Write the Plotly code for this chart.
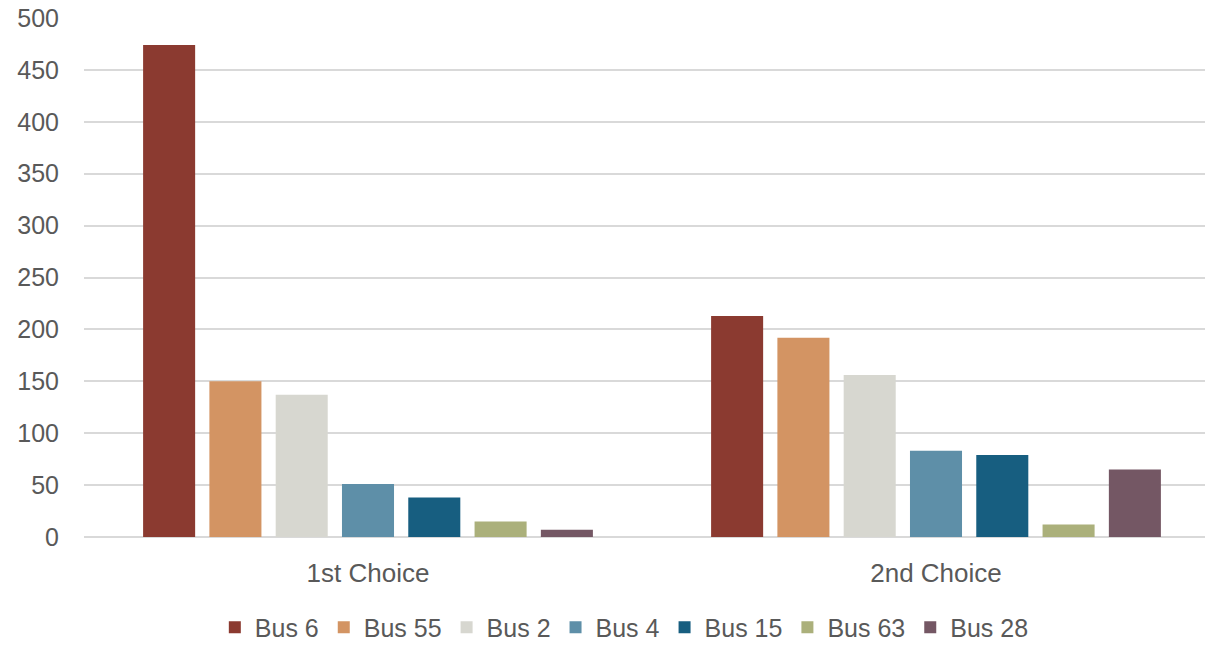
import plotly.graph_objects as go

# ── Data ──────────────────────────────────────────────────────────────────────
choices = ["1st Choice", "2nd Choice"]
buses = ["Bus 6", "Bus 55", "Bus 2", "Bus 4", "Bus 15", "Bus 63", "Bus 28"]
first_choice = [474, 150, 137, 51, 38, 15, 7]
second_choice = [213, 192, 156, 83, 79, 12, 65]
y_ticks = [0, 50, 100, 150, 200, 250, 300, 350, 400, 450, 500]

colors = ["#8B3A30", "#D39463", "#D7D7D0", "#5E8FA8", "#175E80", "#ABB07B", "#745764"]

fig = go.Figure()
for i, bus in enumerate(buses):
    fig.add_trace(go.Bar(
        x=choices,
        y=[first_choice[i], second_choice[i]],
        name=bus,
        marker=dict(color=colors[i], line=dict(width=0)),
    ))

fig.update_layout(
    width=1205, height=645,
    paper_bgcolor="white", plot_bgcolor="white",
    font=dict(family="Liberation Sans, Arial, sans-serif", size=25, color="#595959"),
    margin=dict(l=84, r=0, t=18, b=108, autoexpand=False),
    barmode="group",
    bargap=0.183,
    bargroupgap=0.215,
    showlegend=True,
    legend=dict(orientation="h", x=0.482, xanchor="center", y=-0.13, yanchor="top",
                font=dict(size=25, color="#595959"), itemwidth=30,
                traceorder="normal"),
    # the original chart is cropped a little on the right
    xaxis=dict(range=[-0.5, 1.4736], showgrid=False, showline=False, ticks="",
               automargin=False, ticklabelstandoff=18, tickfont=dict(size=26)),
    yaxis=dict(range=[0, 500], tickvals=y_ticks, showgrid=True, gridcolor="#D9D9D9",
               gridwidth=1.5, zeroline=True, zerolinecolor="#D9D9D9", zerolinewidth=1.5,
               showline=False, ticks="", automargin=False, ticklabelstandoff=24,
               tickfont=dict(size=25)),
)

# page body margin would shift the fixed-size figure off the window
fig.write_html("out.html", config={"displayModeBar": False},
               post_script="document.body.style.margin='0';")
